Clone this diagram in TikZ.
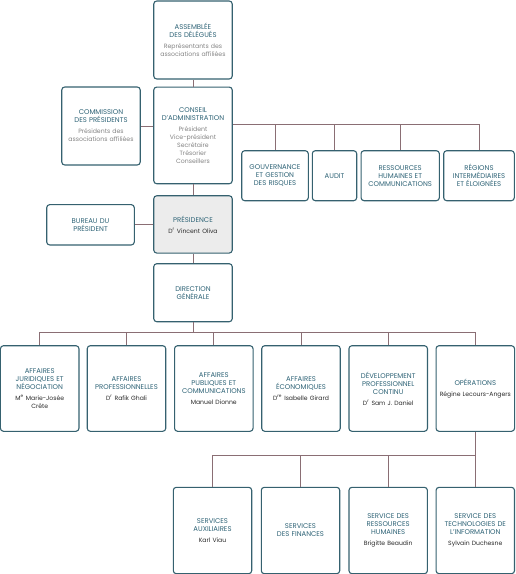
\documentclass[tikz,border=0pt]{standalone}
\usepackage{fontspec}
\setmainfont{Poppins}
\usetikzlibrary{calc}
\definecolor{bordc}{HTML}{35616F}
\definecolor{linec}{HTML}{8A6E74}
\definecolor{titc}{HTML}{2F6477}
\definecolor{subc}{HTML}{858585}
\definecolor{namec}{HTML}{2A2A2A}
\definecolor{presfill}{HTML}{ECECEC}
\newcommand{\orgt}[1]{{\color{titc}\fontsize{6.9}{8}\selectfont #1}}
\newcommand{\orgs}[1]{{\color{subc}\fontsize{6.2}{8}\selectfont #1}}
\newcommand{\orgn}[1]{{\color{namec}\fontsize{6.1}{8}\selectfont #1}}
\begin{document}
\begin{tikzpicture}[x=1pt,y=-1pt,
  orgbox/.style={draw=bordc,line width=1.1pt,rounded corners=3pt,fill=white,
    align=center,inner sep=0pt,text width=78.5pt,font={\fontsize{6.5}{8}\selectfont}},
  conn/.style={draw=linec,line width=1pt}]
\useasboundingbox (0,0) rectangle (515,574);
% top
\node[orgbox,minimum height=78pt] (assemblee) at (193,40)
  {\orgt{ASSEMBLÉE\\DES DÉLÉGUÉS}\\[3pt]\orgs{Représentants des\\associations affiliées}};
\node[orgbox,minimum height=78pt] (commission) at (101,126)
  {\orgt{COMMISSION\\DES PRÉSIDENTS}\\[3pt]\orgs{Présidents des\\associations affiliées}};
\node[orgbox,minimum height=96.7pt] (conseil) at (193,135.4)
  {\orgt{CONSEIL\\D’ADMINISTRATION}\\[3pt]\orgs{Président\\Vice-président\\Secrétaire\\Trésorier\\Conseillers}};
\node[orgbox,text width=66.6pt,minimum height=50pt] (gouv) at (275,175.7)
  {\orgt{GOUVERNANCE\\ET GESTION\\DES RISQUES}};
\node[orgbox,text width=44.4pt,minimum height=50pt] (audit) at (334.5,175.7)
  {\orgt{AUDIT}};
\node[orgbox,text width=78.3pt,minimum height=50pt] (rh) at (400.2,175.7)
  {\orgt{RESSOURCES\\HUMAINES ET\\COMMUNICATIONS}};
\node[orgbox,text width=70.6pt,minimum height=50pt] (regions) at (479,175.7)
  {\orgt{RÉGIONS\\INTERMÉDIAIRES\\ET ÉLOIGNÉES}};
\node[orgbox,text width=87.6pt,minimum height=40.3pt] (bureau) at (90.5,224.8)
  {\orgt{BUREAU DU\\PRÉSIDENT}};
\node[orgbox,fill=presfill,minimum height=57.3pt] (presidence) at (193,224.4)
  {\orgt{PRÉSIDENCE}\\[3pt]\orgn{D\textsuperscript{r} Vincent Oliva}};
\node[orgbox,minimum height=58pt] (direction) at (193,292.7)
  {\orgt{DIRECTION\\GÉNÉRALE}};
% row 3
\begin{scope}[every node/.append style={orgbox,minimum height=85.6pt}]
\node (aff1) at (39.7,388.5) {\orgt{AFFAIRES\\JURIDIQUES ET\\NÉGOCIATION}\\[3pt]\orgn{M\textsuperscript{e} Marie-Josée\\Crête}};
\node (aff2) at (126.5,388.5) {\orgt{AFFAIRES\\PROFESSIONNELLES}\\[3pt]\orgn{D\textsuperscript{r} Rafik Ghali}};
\node (aff3) at (213.8,388.5) {\orgt{AFFAIRES\\PUBLIQUES ET\\COMMUNICATIONS}\\[3pt]\orgn{Manuel Dionne}};
\node (aff4) at (301,388.5) {\orgt{AFFAIRES\\ÉCONOMIQUES}\\[3pt]\orgn{D\textsuperscript{re} Isabelle Girard}};
\node (aff5) at (388.2,388.5) {\orgt{DÉVELOPPEMENT\\PROFESSIONNEL\\CONTINU}\\[3pt]\orgn{D\textsuperscript{r} Sam J. Daniel}};
\node (ops) at (475.3,388.5) {\orgt{OPÉRATIONS}\\[3pt]\orgn{Régine Lecours-Angers}};
\end{scope}
% row 4
\begin{scope}[every node/.append style={orgbox,text width=78.4pt,minimum height=86.4pt}]
\node (svc1) at (212.5,530.5) {\orgt{SERVICES\\AUXILIAIRES}\\[3pt]\orgn{Karl Viau}};
\node (svc2) at (300.5,530.5) {\orgt{SERVICES\\DES FINANCES}};
\node (svc3) at (388.2,530.5) {\orgt{SERVICE DES\\RESSOURCES\\HUMAINES}\\[3pt]\orgn{Brigitte Beaudin}};
\node (svc4) at (475.3,530.5) {\orgt{SERVICE DES\\TECHNOLOGIES DE\\L’INFORMATION}\\[3pt]\orgn{Sylvain Duchesne}};
\end{scope}
% connectors
\draw[conn] (assemblee.south) -- (conseil.north);
\draw[conn] (commission.east) -- (commission.east -| conseil.west);
\coordinate (bus1) at ($(conseil.north east)+(0,38.3)$);
\draw[conn] (bus1) -| (regions.north);
\foreach \n in {gouv,audit,rh}{\draw[conn] (\n.north) -- (\n.north |- bus1);}
\draw[conn] (bureau.east) -- (bureau.east -| presidence.west);
\draw[conn] (conseil.south) -- (presidence.north);
\draw[conn] (presidence.south) -- (direction.north);
\coordinate (bus2) at ($(direction.south)+(0,10)$);
\draw[conn] (direction.south) -- (bus2);
\draw[conn] (aff1.north) |- (bus2) -| (ops.north);
\foreach \n in {aff2,aff3,aff4,aff5}{\draw[conn] (\n.north) -- (\n.north |- bus2);}
\coordinate (bus3) at ($(ops.south)+(0,23.8)$);
\draw[conn] (ops.south) -- (bus3);
\draw[conn] (svc1.north) |- (bus3) -- (svc4.north);
\foreach \n in {svc2,svc3}{\draw[conn] (\n.north) -- (\n.north |- bus3);}
\end{tikzpicture}
\end{document}
